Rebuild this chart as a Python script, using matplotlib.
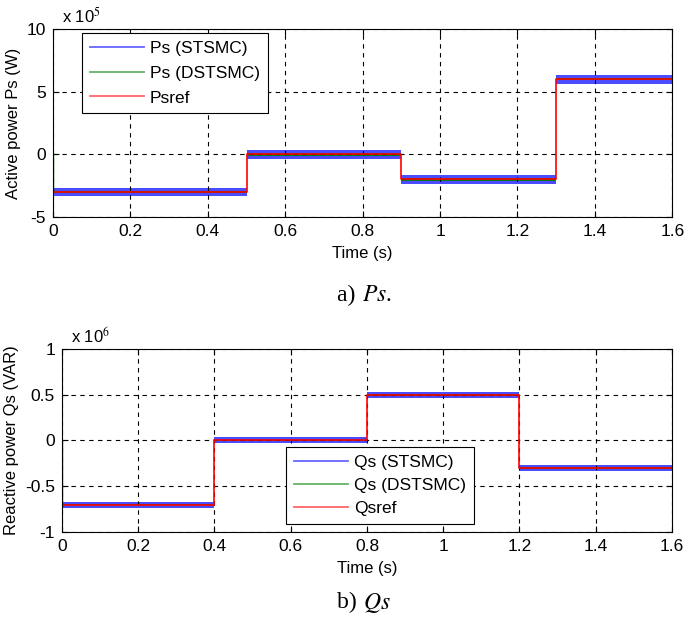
import numpy as np
import matplotlib.pyplot as plt
from matplotlib.lines import Line2D

plt.rcParams['font.family'] = ['Liberation Sans', 'DejaVu Sans']
plt.rcParams['mathtext.fontset'] = 'stix'
plt.rcParams['axes.unicode_minus'] = False

# Ps: step times (s) and levels (x 1e5 W)
ps_t = [0, 0.5, 0.9, 1.3, 1.6]
ps_ref = [-3, 0, -2, 6]
ps_start = 0            # initial value at t=0 before the first step
ps_band_st = 0.35       # chattering half-width, STSMC
ps_band_dst = 0.1       # chattering half-width, DSTSMC

# Qs: step times (s) and levels (x 1e6 VAR)
qs_t = [0, 0.4, 0.8, 1.2, 1.6]
qs_ref = [-0.7, 0, 0.5, -0.3]
qs_start = 0
qs_band_st = 0.033
qs_band_dst = 0.01

blue = (0.0, 0.0, 1.0)
green = (0.0, 0.5, 0.0)
red = (1.0, 0.0, 0.0)


def draw_panel(ax, t, ref, start, band_st, band_dst):
    tt = np.array(t)
    lv = np.array(ref + [ref[-1]])
    ax.fill_between(tt, lv - band_st, lv + band_st, step='post', color=blue, alpha=0.7, lw=0)
    ax.fill_between(tt, lv - band_dst, lv + band_dst, step='post', color=green, alpha=0.9, lw=0)
    # initial transient from the start value
    ax.plot([t[0], t[0]], [start, ref[0]], color=green, lw=1)
    ax.step(tt, lv, where='post', color=red, lw=1.2)
    ax.set_xlim(0, 1.6)
    ax.set_xticks([0, 0.2, 0.4, 0.6, 0.8, 1, 1.2, 1.4, 1.6])
    ax.set_xticklabels(['0', '0.2', '0.4', '0.6', '0.8', '1', '1.2', '1.4', '1.6'])
    ax.grid(True, color='black', linestyle=(0, (4, 4)), lw=0.8)
    ax.tick_params(direction='in', labelsize=12.5, length=4, top=True, right=True, pad=5)
    for s in ax.spines.values():
        s.set_linewidth(0.8)


def make_legend(ax, labels, anchor, spacing):
    h = [Line2D([], [], color=c, lw=1.3, alpha=0.6) for c in (blue, green, red)]
    leg = ax.legend(h, labels, loc='upper left', bbox_to_anchor=anchor,
                    fontsize=12.5, handlelength=3.1, fancybox=False, framealpha=1,
                    edgecolor='black', borderpad=0.45, labelspacing=spacing,
                    handletextpad=0.35, borderaxespad=0)
    leg.get_frame().set_linewidth(0.8)


fig = plt.figure(figsize=(6.85, 6.19), dpi=100)

ax1 = fig.add_axes([0.0774, 0.6494, 0.904, 0.3037])
draw_panel(ax1, ps_t, ps_ref, ps_start, ps_band_st, ps_band_dst)
ax1.set_ylim(-5, 10)
ax1.set_yticks([-5, 0, 5, 10])
ax1.set_ylabel('Active power Ps (W)', fontsize=12, labelpad=4)
ax1.set_xlabel('Time (s)', fontsize=12, labelpad=5)
ax1.text(0.015, 1.02, r'x 10$^{5}$', transform=ax1.transAxes, fontsize=12,
         ha='left', va='bottom')
make_legend(ax1, ['Ps (STSMC)', 'Ps (DSTSMC)', 'Psref'], (0.047, 0.978), 0.55)

ax2 = fig.add_axes([0.0905, 0.1406, 0.8905, 0.2956])
draw_panel(ax2, qs_t, qs_ref, qs_start, qs_band_st, qs_band_dst)
ax2.set_ylim(-1, 1)
ax2.set_yticks([-1, -0.5, 0, 0.5, 1])
ax2.set_yticklabels(['-1', '-0.5', '0', '0.5', '1'])
ax2.set_ylabel('Reactive power Qs (VAR)', fontsize=12, labelpad=4)
ax2.set_xlabel('Time (s)', fontsize=12, labelpad=5)
ax2.text(0.015, 1.02, r'x 10$^{6}$', transform=ax2.transAxes, fontsize=12,
         ha='left', va='bottom')
make_legend(ax2, ['Qs (STSMC)', 'Qs (DSTSMC)', 'Qsref'], (0.368, 0.465), 0.45)

fig.text(0.528, 0.522, 'a) ', fontsize=17, family='Liberation Serif', ha='right', va='center')
fig.text(0.528, 0.522, r'$Ps$.', fontsize=17, family='Liberation Serif', ha='left', va='center')
fig.text(0.53, 0.026, 'b) ', fontsize=17, family='Liberation Serif', ha='right', va='center')
fig.text(0.53, 0.026, r'$Qs$', fontsize=17, family='Liberation Serif', ha='left', va='center')

fig.savefig('out.png', dpi=100)
